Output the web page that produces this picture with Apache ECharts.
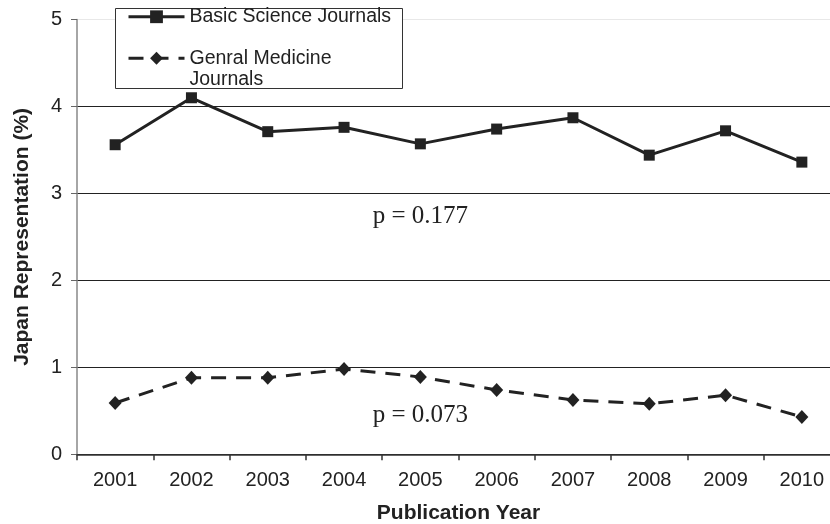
<!DOCTYPE html>
<html><head><meta charset="utf-8">
<script src="https://cdn.jsdelivr.net/npm/echarts@6/dist/echarts.min.js"></script>
<style>html,body{margin:0;padding:0;background:#fff}#c{width:830px;height:524px}</style>
</head><body><div id="c"></div>
<script>
const years = ['2001','2002','2003','2004','2005','2006','2007','2008','2009','2010'];
const basicScience = [3.56, 4.10, 3.71, 3.76, 3.57, 3.74, 3.87, 3.44, 3.72, 3.36];
const generalMedicine = [0.59, 0.88, 0.88, 0.98, 0.89, 0.74, 0.625, 0.58, 0.68, 0.43];
const yTicks = [0, 1, 2, 3, 4, 5];
const pBasic = 'p = 0.177';
const pGeneral = 'p = 0.073';

const chart = echarts.init(document.getElementById('c'));
const ink = '#222';
const sans = 'Liberation Sans, Arial, sans-serif';
chart.setOption({
  animation: false,
  backgroundColor: '#fff',
  grid: { left: 77, right: -10, top: 19.5, bottom: 69.7, containLabel: false, outerBoundsMode: 'none' },
  graphic: [{
    type: 'rect', z: 1, shape: { x: 115.5, y: 8.5, width: 287, height: 80 },
    style: { fill: '#fff', stroke: '#333', lineWidth: 1 }
  }],
  legend: {
    z: 6, left: 127, top: 6, orient: 'vertical', padding: 0, itemGap: -1.5,
    itemWidth: 56, itemHeight: 16,
    lineStyle: { width: 3 },
    textStyle: { fontFamily: sans, fontSize: 19.5, color: ink, lineHeight: 21.5, padding: [0,0,0,0] },
    formatter: function (n) { return n === 'Genral Medicine Journals' ? ' \nGenral Medicine\nJournals' : n; },
    data: ['Basic Science Journals', 'Genral Medicine Journals']
  },
  xAxis: {
    type: 'category', data: years, boundaryGap: true,
    name: 'Publication Year', nameLocation: 'middle', nameGap: 48,
    nameTextStyle: { fontFamily: sans, fontSize: 21, fontWeight: 'bold', color: ink },
    axisLine: { lineStyle: { color: '#333', width: 1.5 } },
    axisTick: { show: true, length: 6, lineStyle: { color: '#333', width: 1.5 } },
    axisLabel: { fontFamily: sans, fontSize: 20, color: ink, margin: 16 }
  },
  yAxis: {
    type: 'value', min: yTicks[0], max: yTicks[yTicks.length - 1], interval: 1,
    name: 'Japan Representation (%)', nameLocation: 'middle', nameGap: 44, nameRotate: 90,
    nameTextStyle: { fontFamily: sans, fontSize: 21, fontWeight: 'bold', color: ink },
    axisLine: { show: true, lineStyle: { color: '#888', width: 1.5 } },
    axisTick: { show: true, length: 6, lineStyle: { color: '#666', width: 1 } },
    axisLabel: { fontFamily: sans, fontSize: 20, color: ink, margin: 15 },
    splitLine: { show: true, lineStyle: { color: ['#222', '#222', '#222', '#222', '#222', '#e8e8e8'], width: 1 } }
  },
  series: [{
    name: 'Basic Science Journals', type: 'line', data: basicScience,
    symbol: 'rect', symbolSize: 11, z: 3,
    lineStyle: { color: ink, width: 3 }, itemStyle: { color: ink },
    markPoint: {
      symbol: 'rect', symbolSize: 0, silent: true,
      label: { show: true, formatter: pBasic, fontFamily: 'Liberation Serif, serif', fontSize: 25, color: ink },
      data: [{ coord: [4, 2.73] }]
    }
  }, {
    name: 'Genral Medicine Journals', type: 'line', data: generalMedicine,
    symbol: 'diamond', symbolSize: [13, 14], z: 3,
    lineStyle: { color: ink, width: 3, type: [15, 10] }, itemStyle: { color: ink },
    markPoint: {
      symbol: 'rect', symbolSize: 0, silent: true,
      label: { show: true, formatter: pGeneral, fontFamily: 'Liberation Serif, serif', fontSize: 25, color: ink },
      data: [{ coord: [4, 0.45] }]
    }
  }]
});
</script></body></html>
